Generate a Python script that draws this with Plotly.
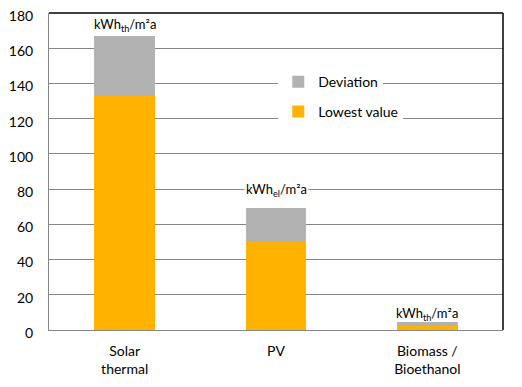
import plotly.graph_objects as go

categories = ["Solar<br>thermal", "PV", "Biomass /<br>Bioethanol"]
lowest_value = [133, 50, 2]
deviation = [34, 19, 2.5]
unit_labels = ["kWh<sub>th</sub>/m²a", "kWh<sub>el</sub>/m²a", "kWh<sub>th</sub>/m²a"]

FONT = "Lato, 'Open Sans', sans-serif"
ORANGE = "#FFB300"
GREY = "#B2B2B2"
GRID = "#868686"

label_yshift = [0, 7, -3]
label_bg = ["white", "white", "rgba(0,0,0,0)"]

fig = go.Figure()
fig.add_trace(go.Bar(x=categories, y=lowest_value, name="Lowest value",
                     marker=dict(color=ORANGE, line=dict(width=0)),
                     width=0.4, legend="legend2"))
fig.add_trace(go.Bar(x=categories, y=deviation, name="Deviation",
                     marker=dict(color=GREY, line=dict(width=0)),
                     width=0.4, legend="legend"))

totals = [a + b for a, b in zip(lowest_value, deviation)]
for c, t, lab, s, bg in zip(categories, totals, unit_labels, label_yshift, label_bg):
    fig.add_annotation(x=c, y=t, text=lab, showarrow=False, yanchor="bottom",
                       yshift=s, bgcolor=bg, borderpad=1,
                       font=dict(family=FONT, size=13, color="#000000"))

# black top/right border of plot area
fig.add_shape(type="line", xref="paper", yref="paper", x0=0, x1=1, y0=1, y1=1,
              line=dict(color="black", width=1.5))
fig.add_shape(type="line", xref="paper", yref="paper", x0=1, x1=1, y0=0, y1=1,
              line=dict(color="black", width=1.5))

# page body has an 8px margin; size the figure to compensate
fig.update_layout(
    width=514, height=379,
    margin=dict(l=41, r=19, t=5, b=57, autoexpand=False),
    barmode="stack",
    plot_bgcolor="white", paper_bgcolor="white",
    font=dict(family=FONT, size=14, color="#000000"),
    showlegend=True,
    legend=dict(x=0.505, y=0.782, xanchor="left", yanchor="middle",
                bgcolor="white", font=dict(family=FONT, size=14),
                itemwidth=30, traceorder="normal"),
    legend2=dict(x=0.505, y=0.688, xanchor="left", yanchor="middle",
                 bgcolor="white", font=dict(family=FONT, size=14),
                 itemwidth=30),
    xaxis=dict(showline=True, linecolor=GRID, linewidth=1, showgrid=False,
               ticks="", tickfont=dict(family=FONT, size=14),
               ticklabelstandoff=8, automargin=False),
    yaxis=dict(range=[0, 180], dtick=20, showline=True, linecolor=GRID,
               linewidth=1, gridcolor=GRID, gridwidth=1, ticks="",
               tickfont=dict(family=FONT, size=14), ticklabelstandoff=12,
               ticklabeloverflow="allow", ticklabelshift=3,
               zeroline=False, automargin=False),
    bargap=0.6,
)

fig.write_html("out.html")
